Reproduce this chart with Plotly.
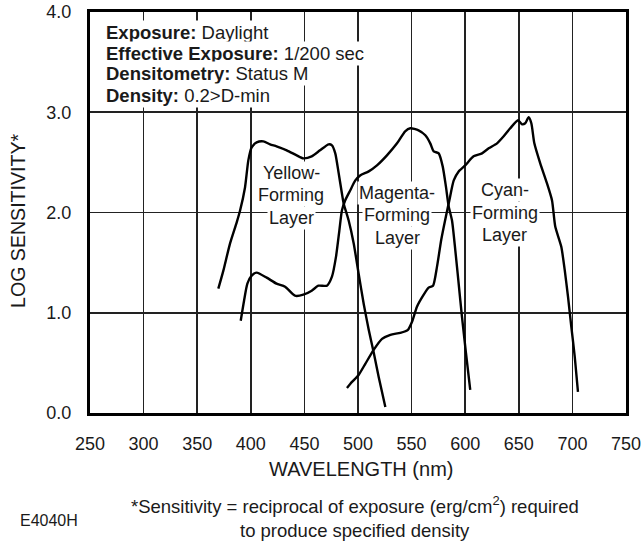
import plotly.graph_objects as go

# ---- data ----
yellow_nm = [369.7, 374.4, 380.6, 386.8, 390, 394.6, 397.7, 400.8, 405.5, 411.7, 418, 424, 433.5,
             442.8, 449, 456.8, 464.6, 472.6, 475.7, 478.8, 482, 485, 486.6, 491.3, 496, 500.6,
             505.3, 510, 514.7, 519.3, 525.5]
yellow_ls = [1.24, 1.42, 1.69, 1.90, 2.02, 2.25, 2.52, 2.65, 2.70, 2.71, 2.68, 2.66, 2.62,
             2.57, 2.54, 2.56, 2.62, 2.68, 2.67, 2.59, 2.39, 2.19, 2.09, 1.92, 1.69, 1.39,
             1.09, 0.83, 0.60, 0.36, 0.06]

magenta_nm = [390.6, 393.7, 396.8, 400.8, 405.5, 414.8, 424, 432, 441.2, 449, 456.8, 463, 471,
              475.7, 479.5, 482.6, 485, 488, 492.7, 497.5, 502, 510, 517.7, 527, 536.4, 544,
              548.8, 556.5, 562.8, 567.4, 570.6, 575.3, 579, 582, 584.6, 587.7, 590.8, 593.9,
              597, 600.7, 604.7]
magenta_ls = [0.92, 1.12, 1.29, 1.37, 1.40, 1.35, 1.29, 1.26, 1.17, 1.18, 1.22, 1.27, 1.27,
              1.36, 1.56, 1.82, 2.02, 2.12, 2.22, 2.32, 2.37, 2.41, 2.47, 2.57, 2.69, 2.81,
              2.84, 2.82, 2.77, 2.69, 2.61, 2.59, 2.46, 2.26, 2.06, 1.92, 1.62, 1.29,
              0.96, 0.60, 0.23]

cyan_nm = [489.7, 494.4, 500.6, 506.8, 514.6, 522.4, 530.2, 539.5, 546.6, 550.4, 555, 561.3,
           565.9, 570, 573.7, 577.7, 582, 585.2, 589.3, 593.9, 600, 607.8, 615.7, 621.9, 629.7,
           635.9, 642, 649.3, 653, 656, 659.2, 661.7, 664.5, 670, 676.3, 681, 684, 689.6,
           692.8, 695.9, 699, 702.2, 705.2]
cyan_ls = [0.25, 0.31, 0.38, 0.49, 0.63, 0.74, 0.78, 0.80, 0.83, 0.91, 1.06, 1.18,
           1.25, 1.27, 1.46, 1.73, 1.96, 2.12, 2.32, 2.41, 2.47, 2.56, 2.59, 2.64, 2.69,
           2.76, 2.84, 2.92, 2.88, 2.89, 2.95, 2.89, 2.69, 2.49, 2.29, 2.12, 1.86, 1.66,
           1.43, 1.16, 0.86, 0.56, 0.21]

x_ticks = [250, 300, 350, 400, 450, 500, 550, 600, 650, 700, 750]
y_ticks = [0.0, 1.0, 2.0, 3.0, 4.0]
y_tick_labels = ["0.0", "1.0", "2.0", "3.0", "4.0"]

info_lines = ["<b>Exposure:</b> Daylight",
              "<b>Effective Exposure:</b> 1/200 sec",
              "<b>Densitometry:</b> Status M",
              "<b>Density:</b> 0.2>D-min"]
info_y = [3.80, 3.59, 3.39, 3.17]

layer_labels = [
    (437.5, [2.39, 2.17, 1.95], ["Yellow-", "Forming", "Layer"]),
    (536.4, [2.19, 1.975, 1.745], ["Magenta-", "Forming", "Layer"]),
    (637.0, [2.22, 1.995, 1.78], ["Cyan-", "Forming", "Layer"]),
]

FONT = "Liberation Sans, Arial, Helvetica, sans-serif"
TXT = "#1a1a1a"

fig = go.Figure()
for xs, ys in [(yellow_nm, yellow_ls), (magenta_nm, magenta_ls), (cyan_nm, cyan_ls)]:
    fig.add_trace(go.Scatter(x=xs, y=ys, mode="lines",
                             line=dict(color="black", width=2.4, shape="spline", smoothing=0.6),
                             showlegend=False, hoverinfo="skip"))

annotations = []
for t, y in zip(info_lines, info_y):
    annotations.append(dict(x=262.8, y=y, xref="x", yref="y", text=t, showarrow=False,
                            xanchor="left", yanchor="middle", bgcolor="white", borderpad=1,
                            font=dict(family=FONT, size=18.5, color=TXT)))
for cx, ys, texts in layer_labels:
    for y, t in zip(ys, texts):
        annotations.append(dict(x=cx, y=y, xref="x", yref="y", text=t, showarrow=False,
                                xanchor="center", yanchor="middle", bgcolor="white", borderpad=1,
                                font=dict(family=FONT, size=18, color=TXT)))

annotations += [
    dict(x=0.5047, y=-0.1397, xref="paper", yref="paper", text="WAVELENGTH (nm)", showarrow=False,
         xanchor="center", yanchor="middle", font=dict(family=FONT, size=20, color=TXT)),
    dict(x=-0.1353, y=0.48, xref="paper", yref="paper", text="LOG SENSITIVITY*", showarrow=False,
         textangle=-90, xanchor="center", yanchor="middle", font=dict(family=FONT, size=19.6, color=TXT)),
    dict(x=0.4935, y=-0.2294, xref="paper", yref="paper",
         text="*Sensitivity = reciprocal of exposure (erg/cm<sup>2</sup>) required", showarrow=False,
         xanchor="center", yanchor="middle", font=dict(family=FONT, size=18.5, color=TXT)),
    dict(x=0.4935, y=-0.2918, xref="paper", yref="paper", text="to produce specified density",
         showarrow=False, xanchor="center", yanchor="middle", font=dict(family=FONT, size=18.5, color=TXT)),
    dict(x=-0.1343, y=-0.2693, xref="paper", yref="paper", text="E4040H", showarrow=False,
         xanchor="left", yanchor="middle", font=dict(family=FONT, size=16, color=TXT)),
]

fig.update_layout(
    width=644, height=541,
    margin=dict(l=90, r=18, t=12, b=128),
    paper_bgcolor="white", plot_bgcolor="white",
    annotations=annotations,
    xaxis=dict(range=[250, 750], tickvals=x_ticks, ticktext=[str(v) for v in x_ticks],
               showgrid=True, gridcolor="#222", gridwidth=1.6, zeroline=False,
               showline=True, linecolor="black", linewidth=3, mirror=True,
               ticks="", ticklabelstandoff=12, automargin=False,
               tickfont=dict(family=FONT, size=18, color=TXT)),
    yaxis=dict(range=[0, 4], tickvals=y_ticks, ticktext=y_tick_labels,
               showgrid=True, gridcolor="#222", gridwidth=1.6, zeroline=False,
               showline=True, linecolor="black", linewidth=3, mirror=True,
               ticks="", ticklabelstandoff=12, automargin=False,
               tickfont=dict(family=FONT, size=18, color=TXT)),
)

fig.write_html(
    "out.html",
    config=dict(displayModeBar=False, staticPlot=True),
    post_script="document.body.style.margin='0';document.body.style.padding='0';"
                "document.body.style.overflow='hidden';document.documentElement.style.overflow='hidden';",
)
